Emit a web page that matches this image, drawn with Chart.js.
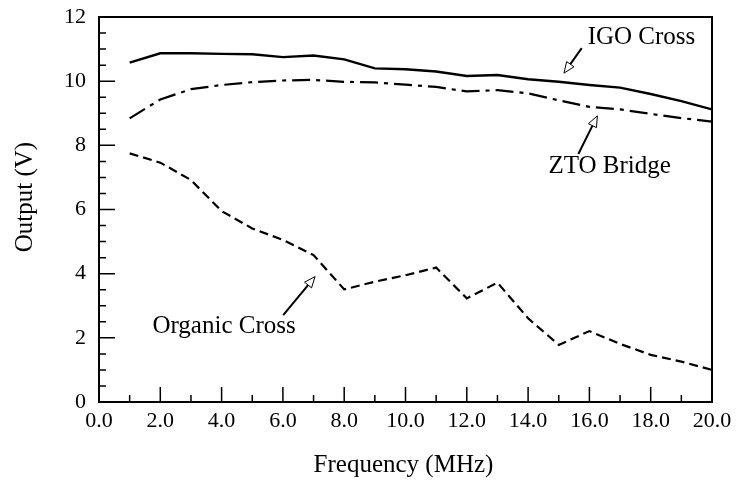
<!DOCTYPE html>
<html>
<head>
<meta charset="utf-8">
<script src="https://cdn.jsdelivr.net/npm/chart.js@4.4.1/dist/chart.umd.min.js"></script>
<style>
  html, body { margin: 0; padding: 0; background: #fff; }
  #chart { display: block; }
</style>
</head>
<body>
<canvas id="chart" width="736" height="481"></canvas>
<script>
// frequency points (MHz)
const freq = [1, 2, 3, 4, 5, 6, 7, 8, 9, 10, 11, 12, 13, 14, 15, 16, 17, 18, 19, 20];

// output voltage (V) for each transducer
const igoCross = [10.58, 10.87, 10.87, 10.85, 10.84, 10.75, 10.8, 10.68, 10.4, 10.37,
                  10.3, 10.16, 10.19, 10.06, 9.98, 9.88, 9.8, 9.6, 9.38, 9.12];
const ztoBridge = [8.84, 9.43, 9.75, 9.88, 9.97, 10.02, 10.04, 9.98, 9.96, 9.89,
                   9.82, 9.68, 9.72, 9.62, 9.4, 9.2, 9.12, 8.98, 8.85, 8.74];
const organicCross = [7.75, 7.46, 6.92, 5.95, 5.41, 5.05, 4.58, 3.51, 3.75, 3.95,
                      4.19, 3.23, 3.72, 2.61, 1.78, 2.21, 1.81, 1.47, 1.26, 1.0];

const seriesNames = ["IGO Cross", "ZTO Bridge", "Organic Cross"];
const xTitle = "Frequency (MHz)";
const yTitle = "Output (V)";

const serif = "'Liberation Serif', 'Times New Roman', serif";

function toPoints(values) {
  return values.map(function (v, i) {
    return { x: freq[i], y: v };
  });
}

// label text, label centre and arrow (tail -> tip), all in data units
const callouts = [
  { text: seriesNames[0], at: [17.7, 11.35], from: [15.75, 11.03], to: [15.17, 10.25] },
  { text: seriesNames[1], at: [16.66, 7.33], from: [15.64, 7.73], to: [16.26, 8.92] },
  { text: seriesNames[2], at: [4.08, 2.35], from: [6.01, 2.71], to: [7.05, 3.91] }
];

function drawArrow(ctx, x1, y1, x2, y2) {
  var ang = Math.atan2(y2 - y1, x2 - x1);
  var len = 11, half = 4.5;
  var bx = x2 - len * Math.cos(ang), by = y2 - len * Math.sin(ang);
  ctx.beginPath();
  ctx.lineWidth = 2;
  ctx.moveTo(x1, y1);
  ctx.lineTo(bx, by);
  ctx.stroke();
  ctx.beginPath();
  ctx.lineWidth = 1;
  ctx.moveTo(x2, y2);
  ctx.lineTo(bx + half * Math.sin(ang), by - half * Math.cos(ang));
  ctx.lineTo(bx - half * Math.sin(ang), by + half * Math.cos(ang));
  ctx.closePath();
  ctx.fillStyle = "#fff";
  ctx.fill();
  ctx.stroke();
}

const frameAndNotes = {
  id: "frameAndNotes",
  afterDraw: function (chart) {
    var ctx = chart.ctx;
    var a = chart.chartArea;
    var xs = chart.scales.x, ys = chart.scales.y;
    ctx.save();
    ctx.strokeStyle = "#000";
    ctx.fillStyle = "#000";

    // plot frame
    ctx.lineWidth = 2;
    ctx.strokeRect(a.left, a.top, a.right - a.left, a.bottom - a.top);

    // inward ticks
    ctx.lineWidth = 1.5;
    ctx.beginPath();
    for (var v = 0; v <= 20; v += 1) {
      var px = xs.getPixelForValue(v);
      var l = v % 2 === 0 ? 15 : 7;
      ctx.moveTo(px, a.bottom);
      ctx.lineTo(px, a.bottom - l);
    }
    for (var w = 0; w <= 12; w += 0.5) {
      var py = ys.getPixelForValue(w);
      var m = w % 2 === 0 ? 16 : 7;
      ctx.moveTo(a.left, py);
      ctx.lineTo(a.left + m, py);
    }
    ctx.stroke();

    // axis titles
    ctx.font = "25px " + serif;
    ctx.textAlign = "center";
    ctx.textBaseline = "middle";
    ctx.fillText(xTitle, (a.left + a.right) / 2 - 2, 465);
    ctx.save();
    ctx.translate(25, 197);
    ctx.rotate(-Math.PI / 2);
    ctx.fillText(yTitle, 0, 0);
    ctx.restore();

    // series callouts
    callouts.forEach(function (c) {
      ctx.fillStyle = "#000";
      ctx.fillText(c.text, xs.getPixelForValue(c.at[0]), ys.getPixelForValue(c.at[1]));
      drawArrow(ctx,
        xs.getPixelForValue(c.from[0]), ys.getPixelForValue(c.from[1]),
        xs.getPixelForValue(c.to[0]), ys.getPixelForValue(c.to[1]));
    });
    ctx.restore();
  }
};

new Chart(document.getElementById("chart"), {
  type: "line",
  data: {
    datasets: [
      {
        label: seriesNames[0],
        data: toPoints(igoCross),
        borderColor: "#000",
        borderWidth: 2.4
      },
      {
        label: seriesNames[1],
        data: toPoints(ztoBridge),
        borderColor: "#000",
        borderWidth: 2.2,
        borderDash: [18, 6, 4, 6]
      },
      {
        label: seriesNames[2],
        data: toPoints(organicCross),
        borderColor: "#000",
        borderWidth: 2.2,
        borderDash: [9, 5]
      }
    ]
  },
  options: {
    responsive: false,
    animation: false,
    layout: { padding: { left: 0, right: 24, top: 17, bottom: 0 } },
    elements: {
      point: { radius: 0 },
      line: { tension: 0, fill: false }
    },
    plugins: {
      legend: { display: false },
      tooltip: { enabled: false }
    },
    scales: {
      x: {
        type: "linear",
        min: 0,
        max: 20,
        grid: { display: false, drawTicks: false },
        border: { display: false },
        ticks: {
          stepSize: 2,
          padding: 6,
          maxRotation: 0,
          autoSkip: false,
          color: "#000",
          font: { family: serif, size: 22 },
          callback: function (v) { return v.toFixed(1); }
        },
        afterFit: function (s) {
          s.height = 79;
          s.paddingLeft = 0;
          s.paddingRight = 0;
        }
      },
      y: {
        min: 0,
        max: 12,
        grid: { display: false, drawTicks: false },
        border: { display: false },
        ticks: {
          stepSize: 2,
          padding: 13,
          color: "#000",
          font: { family: serif, size: 22 }
        },
        afterFit: function (s) {
          s.width = 99;
          s.paddingTop = 0;
          s.paddingBottom = 0;
        }
      }
    }
  },
  plugins: [frameAndNotes]
});
</script>
</body>
</html>
